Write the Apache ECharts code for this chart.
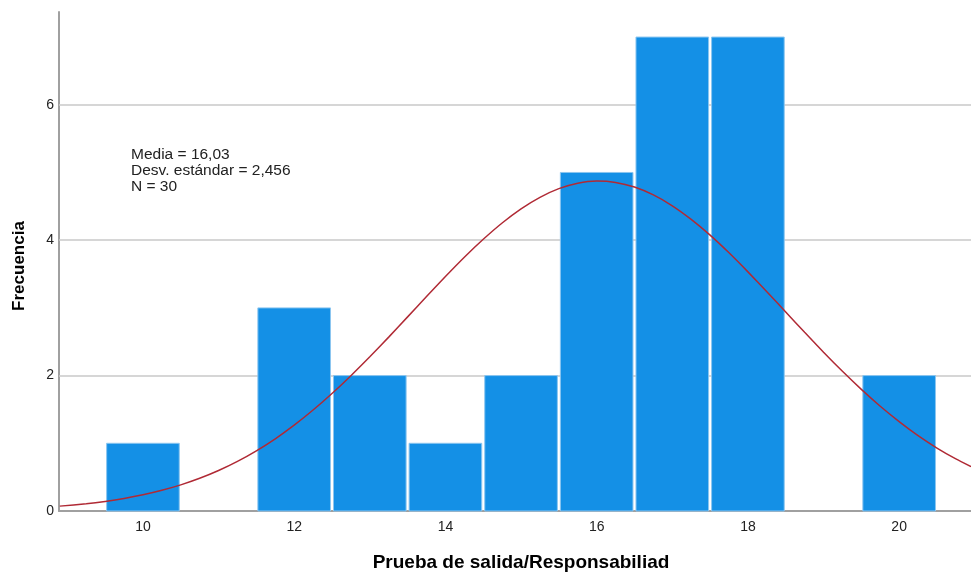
<!DOCTYPE html>
<html><head><meta charset="utf-8">
<script src="https://cdn.jsdelivr.net/npm/echarts@6/dist/echarts.min.js"></script>
<style>html,body{margin:0;padding:0;background:#fff;overflow:hidden}#c{width:971px;height:572px}</style>
</head><body><div id="c"></div>
<script>
const binCenters = [10, 11, 12, 13, 14, 15, 16, 17, 18, 19, 20];
const frequencies = [1, 0, 3, 2, 1, 2, 5, 7, 7, 0, 2];
const curveX = [8.9, 9.25, 9.5, 9.75, 10, 10.25, 10.5, 10.75, 11, 11.25, 11.5, 11.75, 12, 12.25, 12.5, 12.75, 13, 13.25, 13.5, 13.75, 14, 14.25, 14.5, 14.75, 15, 15.25, 15.5, 15.75, 16, 16.25, 16.5, 16.75, 17, 17.25, 17.5, 17.75, 18, 18.25, 18.5, 18.75, 19, 19.25, 19.5, 19.75, 20, 20.25, 20.5, 20.75, 20.95];
const curveY = [0.072, 0.108, 0.142, 0.185, 0.239, 0.306, 0.386, 0.483, 0.598, 0.733, 0.889, 1.067, 1.268, 1.491, 1.735, 1.998, 2.277, 2.568, 2.867, 3.167, 3.463, 3.748, 4.013, 4.254, 4.463, 4.633, 4.761, 4.841, 4.873, 4.853, 4.785, 4.668, 4.508, 4.307, 4.074, 3.813, 3.532, 3.239, 2.939, 2.639, 2.345, 2.063, 1.796, 1.547, 1.320, 1.113, 0.930, 0.769, 0.655];
const xTicks = [10, 12, 14, 16, 18, 20];
const yTicks = [0, 2, 4, 6];
const gridValues = [2, 4, 6];
const statsText = ['Media = 16,03', 'Desv. estándar = 2,456', 'N = 30'];
const xTitle = 'Prueba de salida/Responsabiliad';
const yTitle = 'Frecuencia';

const chart = echarts.init(document.getElementById('c'), null, {renderer: 'canvas'});
const histData = binCenters.map((c, i) => [c, frequencies[i]]).filter(d => d[1] > 0);
const curveData = curveX.map((x, i) => [x, curveY[i]]);
const font = 'Arial, "Liberation Sans", sans-serif';

chart.setOption({
  animation: false,
  grid: {left: 59, right: 0, top: 12, bottom: 61, containLabel: false, outerBoundsMode: 'none'},
  xAxis: {
    type: 'value', min: 8.89, max: 20.95,
    name: xTitle, nameLocation: 'middle', nameGap: 42,
    nameTextStyle: {fontFamily: font, fontSize: 19, fontWeight: 'bold', color: '#000', padding: [0, 0, 0, 12]},
    axisLine: {show: true, lineStyle: {color: '#a0a0a0', width: 2}},
    axisTick: {show: false},
    splitLine: {show: false},
    axisLabel: {
      fontFamily: font, fontSize: 14, color: '#222', margin: 9,
      customValues: xTicks,
      formatter: v => String(v)
    }
  },
  yAxis: {
    type: 'value', min: 0, max: 7.37,
    axisLine: {show: true, lineStyle: {color: '#a0a0a0', width: 2}},
    axisTick: {show: false},
    splitLine: {show: false},
    axisLabel: {
      fontFamily: font, fontSize: 14, color: '#222', margin: 5,
      customValues: yTicks
    },
    interval: 2
  },
  series: [
    {
      type: 'custom',
      data: histData,
      renderItem: function (params, api) {
        const c = api.value(0), f = api.value(1);
        const p0 = api.coord([c - 0.5, f]);
        const p1 = api.coord([c + 0.5, 0]);
        return {
          type: 'rect',
          shape: {x: p0[0] + 1.5, y: p0[1], width: p1[0] - p0[0] - 3, height: p1[1] - p0[1]},
          style: {fill: '#1490e6', stroke: '#8cc6f0', lineWidth: 1}
        };
      },
      z: 2
    },
    {
      type: 'line',
      data: curveData,
      smooth: 0.2,
      showSymbol: false,
      lineStyle: {color: '#b02a35', width: 1.5},
      z: 3,
      markLine: {
        silent: true, symbol: 'none', label: {show: false},
        lineStyle: {color: '#c8c8c8', width: 1.5, type: 'solid'},
        data: gridValues.map(v => ({yAxis: v})),
        z: 1
      }
    }
  ],
  graphic: [{
    type: 'text', left: 131, top: 147,
    style: {text: statsText.join('\n'), fontFamily: font, fontSize: 15.5, lineHeight: 16, fill: '#222'}
  }, {
    type: 'text', x: 19, y: 266, rotation: Math.PI / 2,
    style: {text: yTitle, fontFamily: font, fontSize: 17, fontWeight: 'bold', fill: '#000', align: 'center', verticalAlign: 'middle'}
  }]
});
</script></body></html>
